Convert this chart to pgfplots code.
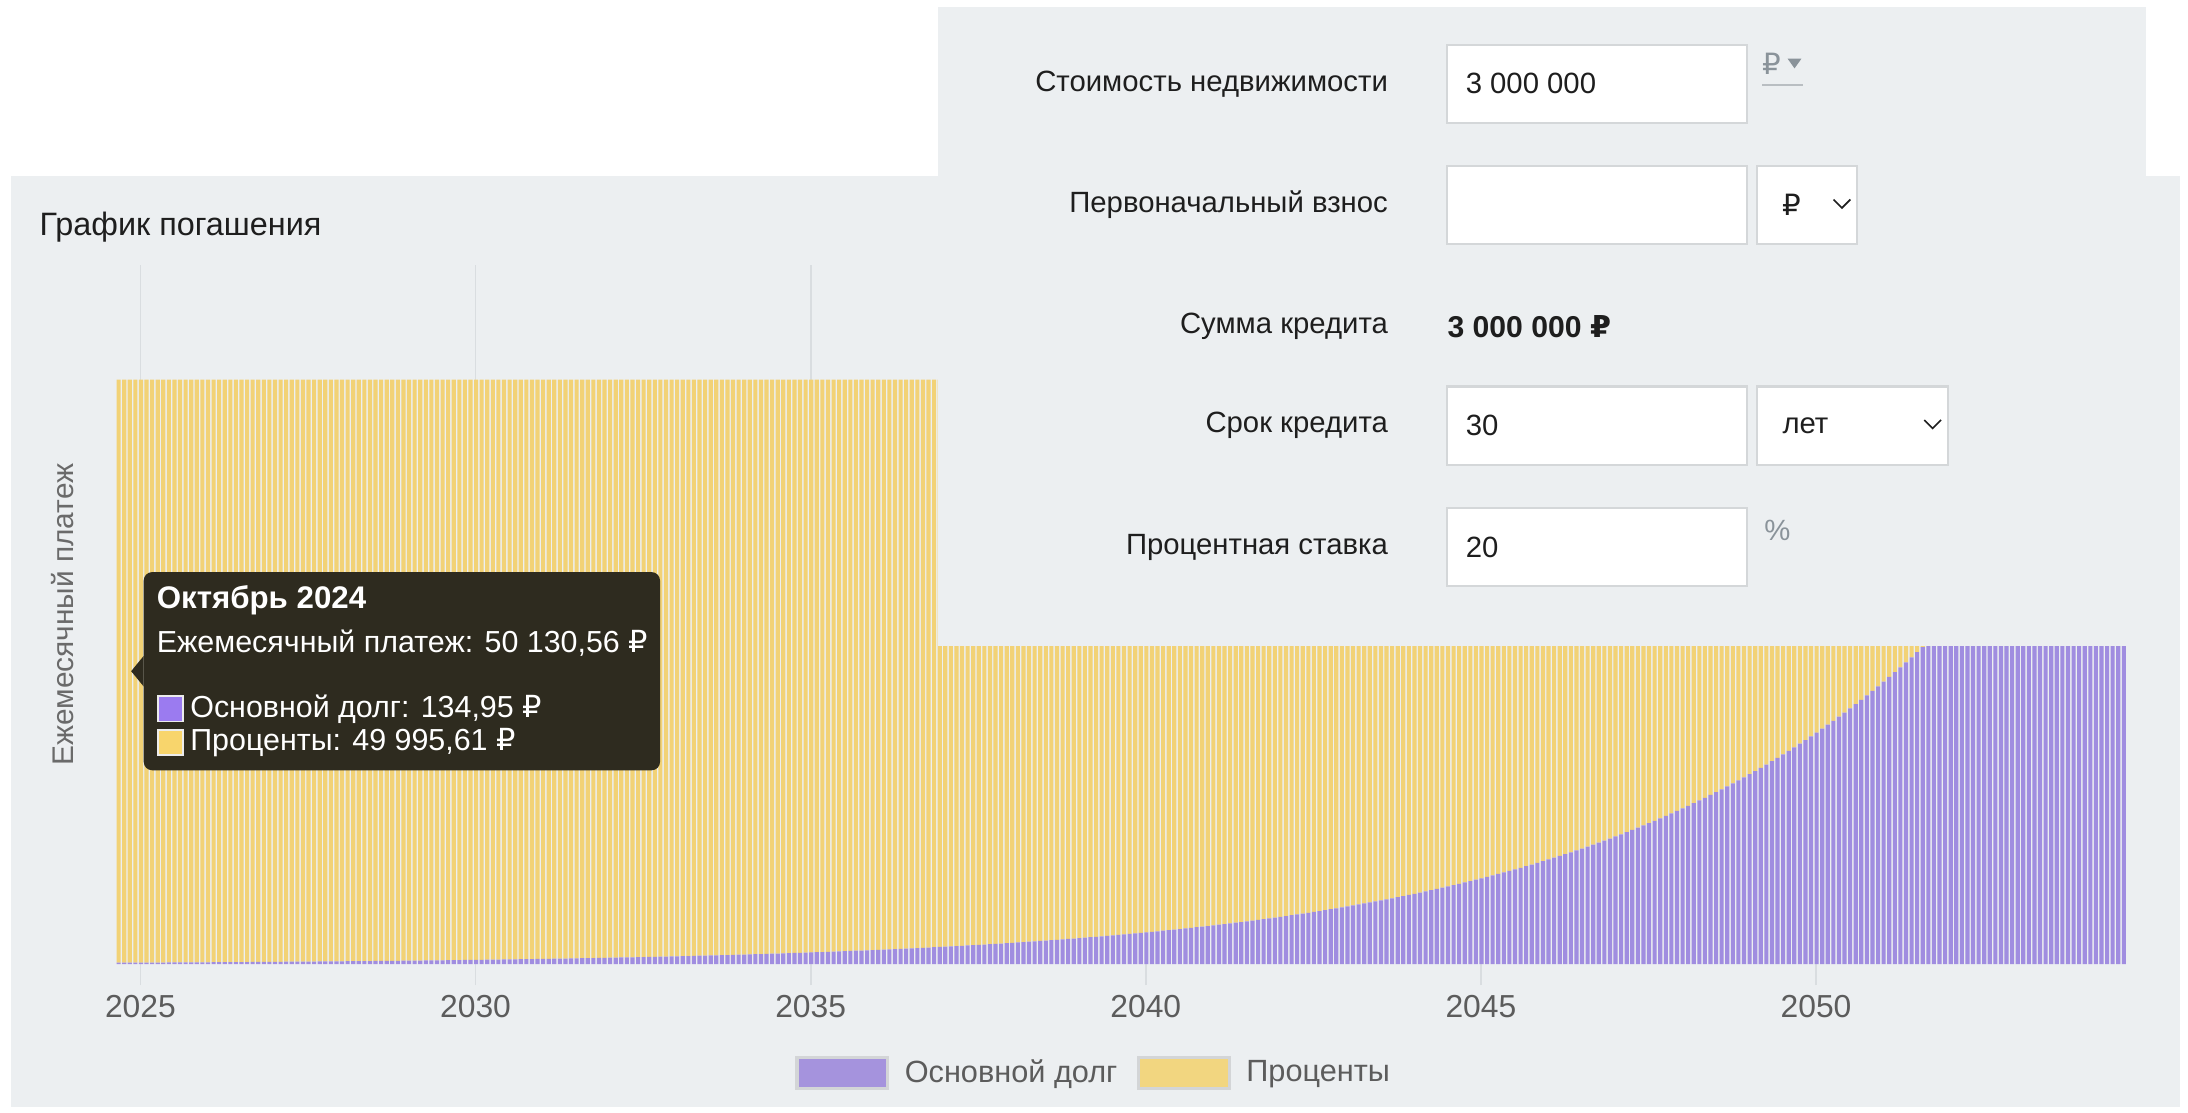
\documentclass[border=0pt]{standalone}
\usepackage{fontspec}
\setmainfont{Liberation Sans}
\newfontfamily\rubfont{DejaVu Sans}
\newcommand{\rub}{{\rubfont ₽}}
\usepackage{pgfplots}
\pgfplotsset{compat=1.18}
\usepackage{pgfplotstable}

\definecolor{cardbg}{HTML}{ECEFF1}
\definecolor{gridc}{HTML}{D9DDE0}
\definecolor{tickc}{HTML}{5C5C5C}
\definecolor{ylabc}{HTML}{6A6A6A}
\definecolor{barpurple}{HTML}{A08DE0}
\definecolor{baryellow}{HTML}{F2D276}
\definecolor{legpurple}{HTML}{A593DD}
\definecolor{legyellow}{HTML}{F2D680}
\definecolor{legbd}{HTML}{D3D5D7}
\definecolor{tipbg}{HTML}{2E2B1F}
\definecolor{tippurple}{HTML}{9B7BF0}
\definecolor{tipyellow}{HTML}{F8D56C}
\definecolor{boxbd}{HTML}{D4D7D9}
\definecolor{formtxt}{HTML}{1E1E1E}
\definecolor{mutedc}{HTML}{8A939A}

% monthly payment split, Oct 2024 - Sep 2054: principal p, interest i
\pgfplotstableread[row sep=\\]{
p i\\
131 50000\\ 133 49998\\ 135 49996\\ 137 49994\\ 139 49992\\ 142 49989\\ 144 49987\\ 147 49984\\ 149 49982\\ 152 49979\\ 154 49977\\ 157 49974\\
159 49972\\ 162 49969\\ 165 49966\\ 167 49964\\ 170 49961\\ 173 49958\\ 176 49955\\ 179 49952\\ 182 49949\\ 185 49946\\ 188 49943\\ 191 49940\\
194 49937\\ 197 49934\\ 201 49930\\ 204 49927\\ 207 49924\\ 211 49920\\ 214 49917\\ 218 49913\\ 222 49909\\ 225 49906\\ 229 49902\\ 233 49898\\
237 49894\\ 241 49890\\ 245 49886\\ 249 49882\\ 253 49878\\ 257 49874\\ 261 49870\\ 266 49865\\ 270 49861\\ 275 49856\\ 279 49852\\ 284 49847\\
289 49842\\ 293 49838\\ 298 49833\\ 303 49828\\ 308 49823\\ 314 49817\\ 319 49812\\ 324 49807\\ 329 49802\\ 335 49796\\ 341 49790\\ 346 49785\\
352 49779\\ 358 49773\\ 364 49767\\ 370 49761\\ 376 49755\\ 382 49749\\ 389 49742\\ 395 49736\\ 402 49729\\ 408 49723\\ 415 49716\\ 422 49709\\
429 49702\\ 436 49695\\ 444 49687\\ 451 49680\\ 459 49672\\ 466 49665\\ 474 49657\\ 482 49649\\ 490 49641\\ 498 49633\\ 506 49625\\ 515 49616\\
523 49608\\ 532 49599\\ 541 49590\\ 550 49581\\ 559 49572\\ 568 49563\\ 578 49553\\ 588 49543\\ 597 49534\\ 607 49524\\ 617 49514\\ 628 49503\\
638 49493\\ 649 49482\\ 660 49471\\ 671 49460\\ 682 49449\\ 693 49438\\ 705 49426\\ 716 49415\\ 728 49403\\ 741 49390\\ 753 49378\\ 765 49366\\
778 49353\\ 791 49340\\ 804 49327\\ 818 49313\\ 831 49300\\ 845 49286\\ 859 49272\\ 874 49257\\ 888 49243\\ 903 49228\\ 918 49213\\ 933 49198\\
949 49182\\ 965 49166\\ 981 49150\\ 997 49134\\ 1014 49117\\ 1031 49100\\ 1048 49083\\ 1065 49066\\ 1083 49048\\ 1101 49030\\ 1120 49011\\ 1138 48993\\
1157 48974\\ 1176 48955\\ 1196 48935\\ 1216 48915\\ 1236 48895\\ 1257 48874\\ 1278 48853\\ 1299 48832\\ 1321 48810\\ 1343 48788\\ 1365 48766\\ 1388 48743\\
1411 48720\\ 1435 48696\\ 1458 48673\\ 1483 48648\\ 1507 48624\\ 1533 48598\\ 1558 48573\\ 1584 48547\\ 1610 48521\\ 1637 48494\\ 1665 48466\\ 1692 48439\\
1721 48410\\ 1749 48382\\ 1778 48353\\ 1808 48323\\ 1838 48293\\ 1869 48262\\ 1900 48231\\ 1932 48199\\ 1964 48167\\ 1997 48134\\ 2030 48101\\ 2064 48067\\
2098 48033\\ 2133 47998\\ 2169 47962\\ 2205 47926\\ 2241 47890\\ 2279 47852\\ 2317 47814\\ 2355 47776\\ 2395 47736\\ 2435 47696\\ 2475 47656\\ 2516 47615\\
2558 47573\\ 2601 47530\\ 2644 47487\\ 2688 47443\\ 2733 47398\\ 2779 47352\\ 2825 47306\\ 2872 47259\\ 2920 47211\\ 2969 47162\\ 3018 47113\\ 3068 47063\\
3120 47011\\ 3172 46959\\ 3224 46907\\ 3278 46853\\ 3333 46798\\ 3388 46743\\ 3445 46686\\ 3502 46629\\ 3561 46570\\ 3620 46511\\ 3680 46451\\ 3742 46389\\
3804 46327\\ 3867 46264\\ 3932 46199\\ 3997 46134\\ 4064 46067\\ 4132 45999\\ 4201 45930\\ 4271 45860\\ 4342 45789\\ 4414 45717\\ 4488 45643\\ 4562 45569\\
4639 45492\\ 4716 45415\\ 4794 45337\\ 4874 45257\\ 4956 45175\\ 5038 45093\\ 5122 45009\\ 5208 44923\\ 5294 44837\\ 5383 44748\\ 5472 44659\\ 5564 44567\\
5656 44475\\ 5751 44380\\ 5846 44285\\ 5944 44187\\ 6043 44088\\ 6144 43987\\ 6246 43885\\ 6350 43781\\ 6456 43675\\ 6563 43568\\ 6673 43458\\ 6784 43347\\
6897 43234\\ 7012 43119\\ 7129 43002\\ 7248 42883\\ 7369 42762\\ 7491 42640\\ 7616 42515\\ 7743 42388\\ 7872 42259\\ 8003 42128\\ 8137 41994\\ 8272 41859\\
8410 41721\\ 8551 41580\\ 8693 41438\\ 8838 41293\\ 8985 41146\\ 9135 40996\\ 9287 40844\\ 9442 40689\\ 9599 40532\\ 9759 40372\\ 9922 40209\\ 10087 40044\\
10256 39875\\ 10426 39705\\ 10600 39531\\ 10777 39354\\ 10956 39175\\ 11139 38992\\ 11325 38806\\ 11514 38617\\ 11705 38426\\ 11900 38231\\ 12099 38032\\ 12300 37831\\
12505 37626\\ 12714 37417\\ 12926 37205\\ 13141 36990\\ 13360 36771\\ 13583 36548\\ 13809 36322\\ 14039 36092\\ 14273 35858\\ 14511 35620\\ 14753 35378\\ 14999 35132\\
15249 34882\\ 15503 34628\\ 15762 34369\\ 16024 34107\\ 16291 33840\\ 16563 33568\\ 16839 33292\\ 17120 33011\\ 17405 32726\\ 17695 32436\\ 17990 32141\\ 18290 31841\\
18595 31536\\ 18904 31227\\ 19220 30911\\ 19540 30591\\ 19866 30265\\ 20197 29934\\ 20533 29598\\ 20875 29256\\ 21223 28908\\ 21577 28554\\ 21937 28194\\ 22302 27829\\
22674 27457\\ 23052 27079\\ 23436 26695\\ 23827 26304\\ 24224 25907\\ 24628 25503\\ 25038 25093\\ 25455 24676\\ 25880 24251\\ 26311 23820\\ 26749 23382\\ 27195 22936\\
27648 22483\\ 28109 22022\\ 28578 21553\\ 29054 21077\\ 29538 20593\\ 30031 20100\\ 30531 19600\\ 31040 19091\\ 31557 18574\\ 32083 18048\\ 32618 17513\\ 33162 16969\\
33714 16417\\ 34276 15855\\ 34848 15283\\ 35428 14703\\ 36019 14112\\ 36619 13512\\ 37229 12902\\ 37850 12281\\ 38481 11650\\ 39122 11009\\ 39774 10357\\ 40437 9694\\
41111 9020\\ 41796 8335\\ 42493 7638\\ 43201 6930\\ 43921 6210\\ 44653 5478\\ 45397 4734\\ 46154 3977\\ 46923 3208\\ 47705 2426\\ 48500 1631\\ 49309 822\\
}\payments

\begin{document}
\begin{tikzpicture}
\useasboundingbox (0,0) rectangle (784pt,-398.5pt);

% page and chart card
\begin{scope}[x=0.5pt,y=-0.5pt]
  \fill[white] (0,0) rectangle (1568,797);
  \fill[cardbg] (8,126) rectangle (1562,793);
  \node[anchor=west, inner sep=0pt, font=\fontsize{11.6}{13}\selectfont, text=formtxt] at (28,163) {График погашения};
\end{scope}

\begin{axis}[
  at={(41.5pt,-345.5pt)}, anchor=south west,
  scale only axis, width=720.5pt, height=250.5pt,
  xmin=-0.5, xmax=359.5, ymin=0, ymax=59940,
  ybar stacked, bar width=0.74,
  axis line style={draw=none},
  ytick=\empty,
  xtick={3.9,63.9,123.9,183.9,243.9,303.9},
  xticklabels={2025,2030,2035,2040,2045,2050},
  xtick pos=left, xtick align=outside,
  major tick length=7.5pt,
  xtick style={draw=gridc, line width=0.6pt},
  xmajorgrids, grid style={draw=gridc, line width=0.6pt},
  xticklabel style={font=\fontsize{11.4}{13}\selectfont, text=tickc},
  /pgf/number format/assume math mode=true,
  ylabel={Ежемесячный платеж},
  ylabel style={at={(axis description cs:-0.0264,0.5)}, anchor=center,
    font=\fontsize{10.7}{12}\selectfont, text=ylabc},
  legend columns=-1,
  legend style={at={(axis description cs:0.4872,-0.1557)}, anchor=center,
    draw=none, fill=none, font=\fontsize{11}{13}\selectfont, text=tickc,
    /tikz/every odd column/.append style={column sep=3.5pt},
    /tikz/every even column/.append style={column sep=5pt}},
]
\addlegendimage{legend image code/.code={\draw[draw=legbd, line width=1.2pt, fill=legpurple] (0pt,-5.5pt) rectangle (32.5pt,5.5pt);}}
\addlegendentry{Основной долг}
\addlegendimage{legend image code/.code={\draw[draw=legbd, line width=1.2pt, fill=legyellow] (0pt,-5.5pt) rectangle (32.5pt,5.5pt);}}
\addlegendentry{Проценты}
\addplot[fill=barpurple, draw=none, forget plot] table[x expr=\coordindex, y=p] {\payments};
\addplot[fill=baryellow, draw=none, forget plot] table[x expr=\coordindex, y=i] {\payments};
\end{axis}

\begin{scope}[x=0.5pt,y=-0.5pt,
  lbl/.style={anchor=east, inner sep=0pt, font=\fontsize{10.5}{12}\selectfont, text=formtxt},
  val/.style={anchor=west, inner sep=0pt, font=\fontsize{10.5}{12}\selectfont, text=formtxt},
  inbox/.style={draw=boxbd, line width=0.8pt, fill=white},
  tip/.style={anchor=west, inner sep=0pt, font=\fontsize{10.9}{12}\selectfont, text=white}]
  % loan form panel
  \fill[cardbg] (672,5) rectangle (1538,463);
  \node[lbl] at (995,60) {Стоимость недвижимости};
  \node[lbl] at (995,147) {Первоначальный взнос};
  \node[lbl] at (995,234) {Сумма кредита};
  \node[lbl] at (995,305) {Срок кредита};
  \node[lbl] at (995,392) {Процентная ставка};
  \draw[inbox] (1037,32) rectangle (1252,88);
  \draw[inbox] (1037,119) rectangle (1252,175);
  \draw[inbox] (1259,119) rectangle (1331,175);
  \draw[inbox] (1037,277) rectangle (1252,333);
  \draw[inbox] (1259,277) rectangle (1396,333);
  \draw[inbox] (1037,364) rectangle (1252,420);
  \node[val] at (1050,60) {3 000 000};
  \node[val] at (1050,305) {30};
  \node[val] at (1050,392) {20};
  \node[val, font=\bfseries\fontsize{10.8}{12}\selectfont] at (1037,234) {3 000 000 \rub};
  \node[val] at (1277,147) {\rub};
  \node[val] at (1277,305) {лет};
  \draw[formtxt, line width=0.6pt] (1314,143) -- (1320,149) -- (1326,143);
  \draw[formtxt, line width=0.6pt] (1379,301) -- (1385,307) -- (1391,301);
  \node[val, text=mutedc] at (1263,46) {\rub};
  \fill[mutedc] (1281,42) -- (1291,42) -- (1286,49) -- cycle;
  \draw[mutedc!60, line width=0.8pt] (1263,61) -- (1292,61);
  \node[val, text=mutedc] at (1264,380) {\%};
  % tooltip
  \fill[tipbg, rounded corners=3pt] (103,410) rectangle (473,552);
  \fill[tipbg] (103,470) -- (94,481) -- (103,492) -- cycle;
  \node[tip, font=\bfseries\fontsize{11.2}{12}\selectfont] at (112,430) {Октябрь 2024};
  \node[tip] at (112,461) {Ежемесячный платеж: 50 130,56 \rub};
  \filldraw[fill=tippurple, draw=white!85!gray, line width=0.6pt] (113,499) rectangle (131,517);
  \filldraw[fill=tipyellow, draw=white!85!gray, line width=0.6pt] (113,523) rectangle (131,541);
  \node[tip] at (136,508) {Основной долг: 134,95 \rub};
  \node[tip] at (136,532) {Проценты: 49 995,61 \rub};
\end{scope}
\end{tikzpicture}
\end{document}
